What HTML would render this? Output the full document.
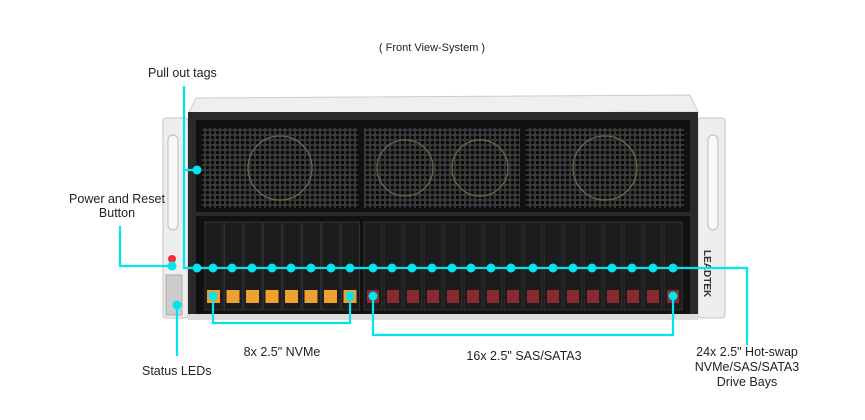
<!DOCTYPE html>
<html><head><meta charset="utf-8"><style>
html,body{margin:0;padding:0;background:#fff;}
svg{display:block;}
text{font-family:"Liberation Sans",sans-serif;font-size:12.5px;fill:#222;}
</style></head><body>
<svg width="865" height="420" viewBox="0 0 865 420" xmlns="http://www.w3.org/2000/svg">
<defs>
<pattern id="mesh" width="5" height="5" patternUnits="userSpaceOnUse">
<rect width="5" height="5" fill="#3a3a3a"/><circle cx="2.5" cy="2.5" r="1.7" fill="#080808"/>
</pattern>
</defs>
<text x="432" y="51" text-anchor="middle" style="font-size:11px">( Front View-System )</text>
<rect x="163" y="118" width="25" height="200" rx="3" fill="#eeeeee" stroke="#c4c4c4"/>
<rect x="698" y="118" width="27" height="200" rx="3" fill="#eeeeee" stroke="#c4c4c4"/>
<rect x="168" y="135" width="10" height="95" rx="5" fill="#f8f8f8" stroke="#bbb"/>
<rect x="708" y="135" width="10" height="95" rx="5" fill="#f8f8f8" stroke="#bbb"/>
<rect x="166" y="275" width="16" height="40" fill="#ccc" stroke="#aaa"/>
<text x="0" y="0" transform="translate(704,250) rotate(90)" style="font-size:10px;fill:#333;font-weight:bold">LEADTEK</text>
<polygon points="196,98 690,95 698,112 188,114" fill="#efefef" stroke="#ccc"/>
<rect x="188" y="112" width="510" height="206" fill="#2a2a2a"/>
<rect x="196" y="120" width="494" height="92" fill="#111"/>
<rect x="202" y="128" width="156" height="80" fill="url(#mesh)"/>
<rect x="364" y="128" width="156" height="80" fill="url(#mesh)"/>
<rect x="526" y="128" width="158" height="80" fill="url(#mesh)"/>
<g fill="none" stroke="#6a6648" stroke-width="1.3">
<circle cx="280" cy="168" r="32"/><circle cx="405" cy="168" r="28"/><circle cx="480" cy="168" r="28"/><circle cx="605" cy="168" r="32"/>
</g>
<rect x="196" y="216" width="494" height="98" fill="#111"/>
<g fill="#1c1c1c" stroke="#333">
<rect x="205" y="222" width="18" height="88"/><rect x="224.5" y="222" width="18" height="88"/><rect x="244" y="222" width="18" height="88"/><rect x="263.5" y="222" width="18" height="88"/><rect x="283" y="222" width="18" height="88"/><rect x="302.5" y="222" width="18" height="88"/><rect x="322" y="222" width="18" height="88"/><rect x="341.5" y="222" width="18" height="88"/>
<rect x="364" y="222" width="18" height="88"/><rect x="384" y="222" width="18" height="88"/><rect x="404" y="222" width="18" height="88"/><rect x="424" y="222" width="18" height="88"/><rect x="444" y="222" width="18" height="88"/><rect x="464" y="222" width="18" height="88"/><rect x="484" y="222" width="18" height="88"/><rect x="504" y="222" width="18" height="88"/>
<rect x="524" y="222" width="18" height="88"/><rect x="544" y="222" width="18" height="88"/><rect x="564" y="222" width="18" height="88"/><rect x="584" y="222" width="18" height="88"/><rect x="604" y="222" width="18" height="88"/><rect x="624" y="222" width="18" height="88"/><rect x="644" y="222" width="18" height="88"/><rect x="664" y="222" width="18" height="88"/>
</g>
<g fill="#f0a030">
<rect x="207" y="290" width="13" height="13"/><rect x="226.5" y="290" width="13" height="13"/><rect x="246" y="290" width="13" height="13"/><rect x="265.5" y="290" width="13" height="13"/><rect x="285" y="290" width="13" height="13"/><rect x="304.5" y="290" width="13" height="13"/><rect x="324" y="290" width="13" height="13"/><rect x="343.5" y="290" width="13" height="13"/>
</g>
<g fill="#8a2a30">
<rect x="367" y="290" width="12" height="13"/><rect x="387" y="290" width="12" height="13"/><rect x="407" y="290" width="12" height="13"/><rect x="427" y="290" width="12" height="13"/><rect x="447" y="290" width="12" height="13"/><rect x="467" y="290" width="12" height="13"/><rect x="487" y="290" width="12" height="13"/><rect x="507" y="290" width="12" height="13"/>
<rect x="527" y="290" width="12" height="13"/><rect x="547" y="290" width="12" height="13"/><rect x="567" y="290" width="12" height="13"/><rect x="587" y="290" width="12" height="13"/><rect x="607" y="290" width="12" height="13"/><rect x="627" y="290" width="12" height="13"/><rect x="647" y="290" width="12" height="13"/><rect x="667" y="290" width="12" height="13"/>
</g>
<rect x="188" y="314" width="510" height="6" fill="#ddd"/>
<circle cx="172" cy="259" r="4" fill="#e33"/>
<g stroke="#00e5ee" stroke-width="2.2" fill="none">
<polyline points="184,86 184,268 747,268 747,345"/>
<line x1="184" y1="170" x2="197" y2="170"/>
<polyline points="120,226 120,266 172,266"/>
<line x1="177" y1="305" x2="177" y2="356"/>
<polyline points="213,296 213,323 350,323 350,296"/>
<polyline points="373,296 373,335 673,335 673,296"/>
</g>
<g fill="#00e5ee">
<circle cx="197" cy="170" r="4.5"/><circle cx="172" cy="266" r="4.5"/><circle cx="177" cy="305" r="4.5"/>
<circle cx="197" cy="268" r="4.5"/><circle cx="213" cy="268" r="4.5"/><circle cx="232" cy="268" r="4.5"/><circle cx="252" cy="268" r="4.5"/><circle cx="272" cy="268" r="4.5"/><circle cx="291" cy="268" r="4.5"/><circle cx="311" cy="268" r="4.5"/><circle cx="331" cy="268" r="4.5"/><circle cx="350" cy="268" r="4.5"/>
<circle cx="373" cy="268" r="4.5"/><circle cx="392" cy="268" r="4.5"/><circle cx="412" cy="268" r="4.5"/><circle cx="432" cy="268" r="4.5"/><circle cx="452" cy="268" r="4.5"/><circle cx="471" cy="268" r="4.5"/><circle cx="491" cy="268" r="4.5"/><circle cx="511" cy="268" r="4.5"/>
<circle cx="533" cy="268" r="4.5"/><circle cx="553" cy="268" r="4.5"/><circle cx="573" cy="268" r="4.5"/><circle cx="592" cy="268" r="4.5"/><circle cx="612" cy="268" r="4.5"/><circle cx="632" cy="268" r="4.5"/><circle cx="653" cy="268" r="4.5"/><circle cx="673" cy="268" r="4.5"/>
<circle cx="213" cy="296" r="4.5"/><circle cx="350" cy="296" r="4.5"/><circle cx="373" cy="296" r="4.5"/><circle cx="673" cy="296" r="4.5"/>
</g>
<text x="148" y="77">Pull out tags</text>
<text x="117" y="203" text-anchor="middle">Power and Reset</text>
<text x="117" y="217" text-anchor="middle">Button</text>
<text x="142" y="375">Status LEDs</text>
<text x="282" y="356" text-anchor="middle">8x 2.5" NVMe</text>
<text x="524" y="360" text-anchor="middle">16x 2.5" SAS/SATA3</text>
<text x="747" y="356" text-anchor="middle">24x 2.5" Hot-swap</text>
<text x="747" y="371" text-anchor="middle">NVMe/SAS/SATA3</text>
<text x="747" y="386" text-anchor="middle">Drive Bays</text>
</svg>
</body></html>
